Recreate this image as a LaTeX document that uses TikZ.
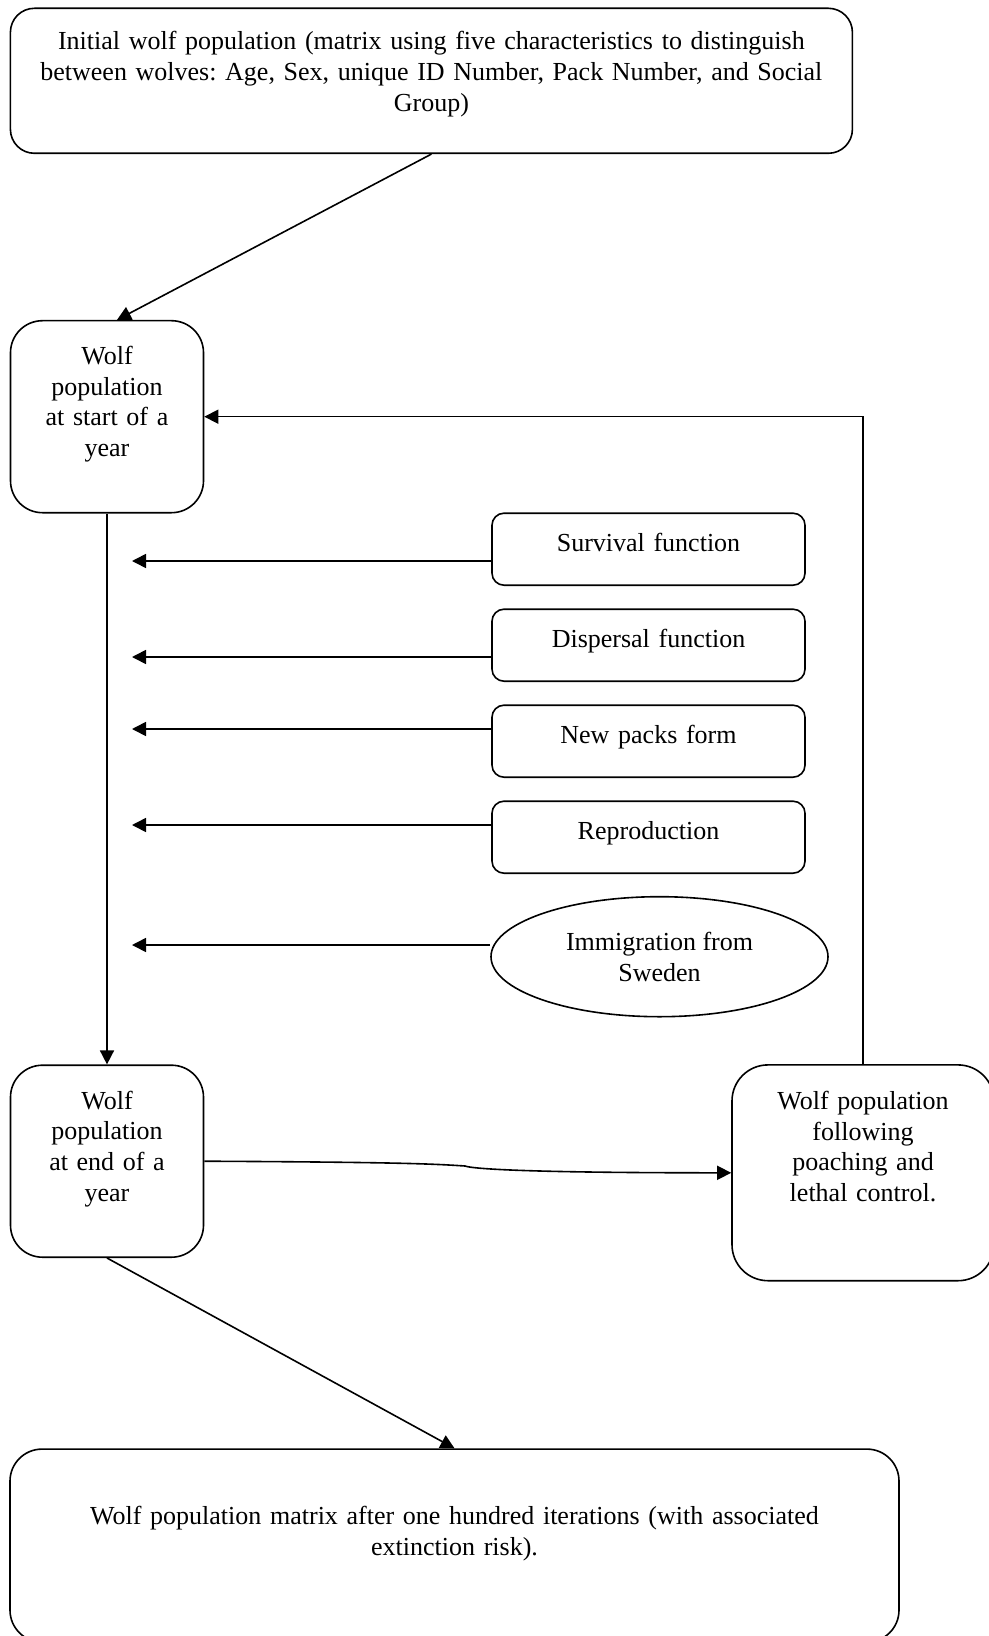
\documentclass[tikz,border=0pt]{standalone}
\usepackage{fontspec}
\setmainfont{Liberation Serif}
\usetikzlibrary{positioning,arrows.meta,shapes.geometric}
\frenchspacing

\begin{document}
\begin{tikzpicture}[x=0.5pt,y=-0.5pt,line width=0.8pt,
    font=\fontsize{13}{15.3}\selectfont,
    wbox/.style={draw,rounded corners=#1,align=center,inner sep=0pt},
    fbox/.style={wbox=6pt,text width=156.5pt,text height=19pt,text depth=17pt},
    pbox/.style={wbox=16pt,text width=96.5pt,text height=22pt,text depth=74pt},
    arr/.style={-{Triangle[length=7pt,width=7pt]}}]
  \useasboundingbox (0,0) rectangle (989,1636);

	\node[wbox=12pt,text width=421pt,text height=20.8pt,text depth=51.7pt] (init) at (431.4,80.8)
      {Initial wolf population (matrix using five characteristics to distinguish\\between wolves: Age, Sex, unique ID Number, Pack Number, and Social\\Group)};
    \node[pbox] (start) at (107,416.7) {Wolf\\population\\at start of a\\year};
    \node[fbox] (surv) at (648.5,549.2) {Survival function};
    \node[fbox] (disp) at (648.5,645.2) {Dispersal function};
    \node[fbox] (pack) at (648.5,741.2) {New packs form};
    \node[fbox] (repr) at (648.5,837.2) {Reproduction};
    \node[draw,ellipse,align=center,inner sep=0pt,minimum width=168.5pt,minimum height=60pt] (imm) at (659.5,956.7)
      {Immigration from\\Sweden};
    \node[pbox] (end) at (107,1161.2) {Wolf\\population\\at end of a\\year};
    \node[wbox=18pt,text width=131pt,text height=22.3pt,text depth=85.6pt] (poach) at (863,1172.8)
      {Wolf population\\following\\poaching and\\lethal control.};
    \node[wbox=16pt,text width=444.5pt,text height=37.7pt,text depth=58.8pt] (final) at (454.5,1545.6)
      {Wolf population matrix after one hundred iterations (with associated\\extinction risk).};

    \coordinate (s1) at (132,561);
    \coordinate (s2) at (132,657);
    \coordinate (s3) at (132,729);
    \coordinate (s4) at (132,825);
    \coordinate (s5) at (132,945);
    \coordinate (kink) at (465,1166);

    \draw[arr] (init.south) -- ([xshift=5pt]start.north);
    \draw[arr] (start) -- (end);
    \draw[arr] (poach.north) |- (start.east);
    \draw[arr] (surv.west |- s1) -- (s1);
    \draw[arr] (disp.west |- s2) -- (s2);
    \draw[arr] (pack.west |- s3) -- (s3);
    \draw[arr] (repr.west |- s4) -- (s4);
    \draw[arr] (imm.west |- s5) -- (s5);
    \draw[arr] (end.east) .. controls +(200,1) and +(-30,-2) .. (kink)
      .. controls +(8,3) and +(-200,0) .. (poach.west);
    \draw[arr] (end.south) -- (final.north);
\end{tikzpicture}
\end{document}
